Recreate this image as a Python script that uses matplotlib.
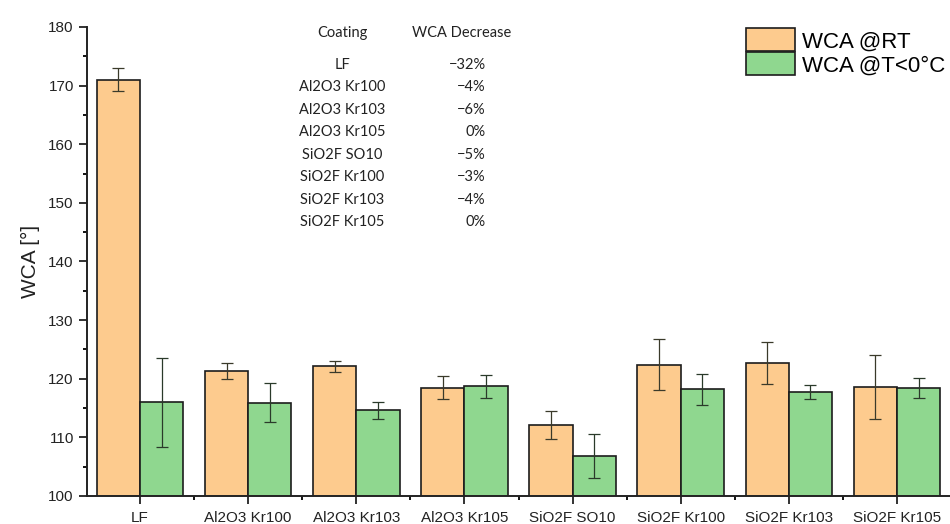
import numpy as np
import matplotlib
matplotlib.use("Agg")
import matplotlib.pyplot as plt
from matplotlib.ticker import MultipleLocator, FixedLocator

# data
coatings = ["LF", "Al2O3 Kr100", "Al2O3 Kr103", "Al2O3 Kr105",
            "SiO2F SO10", "SiO2F Kr100", "SiO2F Kr103", "SiO2F Kr105"]
wca_rt = [171.0, 121.3, 122.1, 118.5, 112.1, 122.4, 122.7, 118.6]
err_rt = [2.0, 1.4, 1.0, 2.0, 2.4, 4.4, 3.6, 5.5]
wca_cold = [116.0, 115.9, 114.6, 118.7, 106.8, 118.2, 117.7, 118.4]
err_cold = [7.6, 3.3, 1.4, 1.9, 3.7, 2.6, 1.2, 1.7]
decrease = ["\u221232%", "\u22124%", "\u22126%", "0%", "\u22125%", "\u22123%", "\u22124%", "0%"]

orange = "#FDCB8E"
green = "#8FD78F"
edge = "#1c1c1c"

plt.rcParams["font.family"] = ["Liberation Sans", "DejaVu Sans"]

fig = plt.figure(figsize=(9.5, 5.24), dpi=100)
ax = fig.add_axes([87 / 950, 28 / 524, 1 - 87 / 950, (496 - 27) / 524])

x = np.arange(len(coatings))
w = 0.4
ax.bar(x - w / 2, wca_rt, w, color=orange, edgecolor=edge,
       linewidth=1.2, label="WCA @RT")
ax.bar(x + w / 2, wca_cold, w, color=green, edgecolor=edge,
       linewidth=1.2, label="WCA @T<0°C")
ax.errorbar(x - w / 2, wca_rt, yerr=err_rt, fmt="none", ecolor="#3a3a2a",
            elinewidth=0.9, capsize=4, capthick=0.9)
ax.errorbar(x + w / 2, wca_cold, yerr=err_cold, fmt="none", ecolor="#2a3a2a",
            elinewidth=0.9, capsize=4, capthick=0.9)

ax.set_ylim(100, 180)
ax.set_xlim(-0.49, len(coatings) - 0.51)
ax.yaxis.set_major_locator(MultipleLocator(10))
ax.yaxis.set_minor_locator(MultipleLocator(5))
ax.set_xticks(x)
ax.set_xticklabels(coatings, fontsize=11, color="#222222")
ax.xaxis.set_minor_locator(FixedLocator(x[:-1] + 0.5))
ax.tick_params(axis="both", which="major", direction="out", length=6,
               width=1.3, labelsize=11, colors="#222222")
ax.tick_params(axis="both", which="minor", direction="out", length=3, width=1.3)
ax.tick_params(axis="x", which="major", pad=5)
ax.set_ylabel("WCA [°]", fontsize=15, color="#222222", labelpad=6)

for side in ["top", "right"]:
    ax.spines[side].set_visible(False)
for side in ["left", "bottom"]:
    ax.spines[side].set_linewidth(1.4)
    ax.spines[side].set_color("#222222")

ax.legend(loc="upper right", bbox_to_anchor=(1.012, 1.03), frameon=False,
          fontsize=16, handlelength=2.2, handleheight=1.2,
          labelspacing=0.0, handletextpad=0.3, borderaxespad=0.3)

# table of WCA decrease
tfont = dict(family=["Lato", "DejaVu Sans"], fontsize=10.5, color="#222222")
fig.text(342 / 950, 1 - 33 / 524, "Coating", ha="center", va="center", **tfont)
fig.text(462 / 950, 1 - 33 / 524, "WCA Decrease", ha="center", va="center", **tfont)
row_y = np.linspace(65, 222, len(coatings))
for name, dec, ry in zip(coatings, decrease, row_y):
    fig.text(342 / 950, 1 - ry / 524, name, ha="center", va="center", **tfont)
    fig.text(486 / 950, 1 - ry / 524, dec, ha="right", va="center", **tfont)

fig.savefig("out.png", dpi=100)
